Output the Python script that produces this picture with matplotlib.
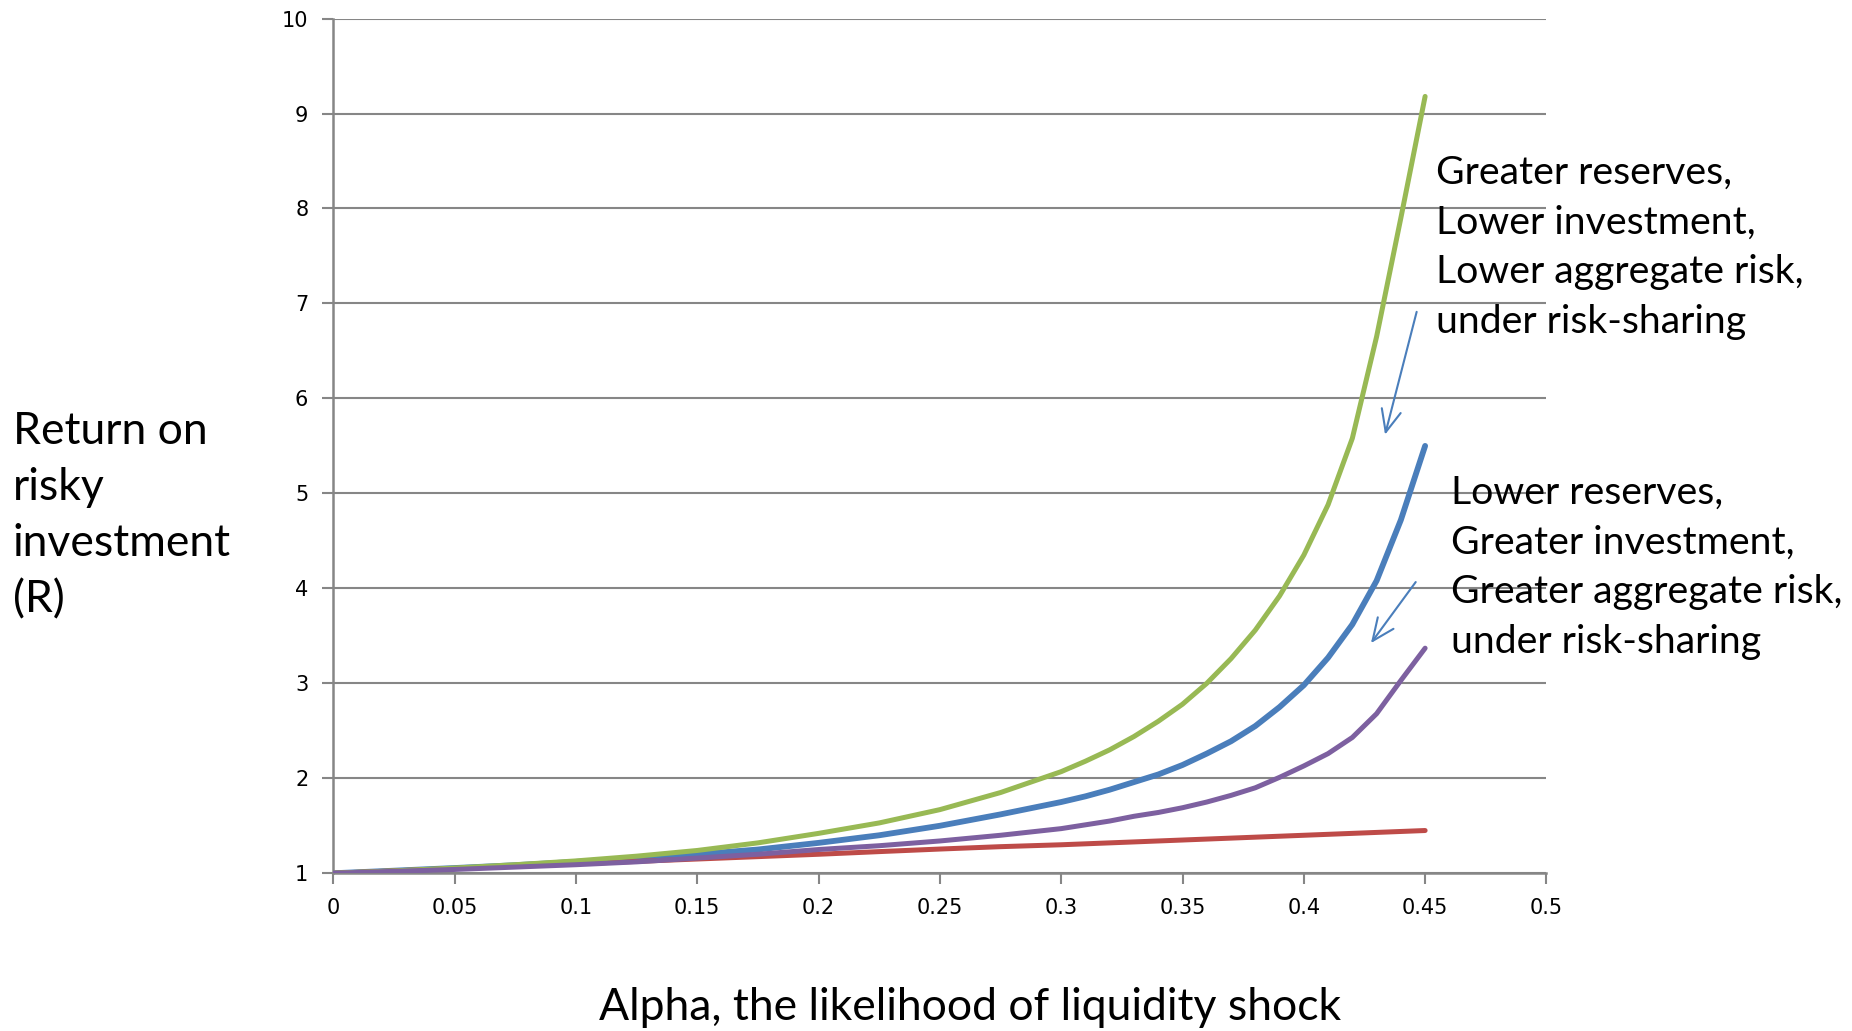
import numpy as np
import matplotlib
matplotlib.use("Agg")
import matplotlib.pyplot as plt

# values
alpha = [0.0, 0.025, 0.05, 0.075, 0.1, 0.125, 0.15, 0.175, 0.2, 0.225, 0.25, 0.275,
         0.3, 0.31, 0.32, 0.33, 0.34, 0.35, 0.36, 0.37, 0.38, 0.39,
         0.4, 0.41, 0.42, 0.43, 0.44, 0.45]
r_blue = [1.0, 1.027, 1.055, 1.085, 1.12, 1.16, 1.2, 1.25, 1.32, 1.4, 1.5, 1.62,
          1.75, 1.81, 1.88, 1.96, 2.04, 2.14, 2.26, 2.39, 2.55, 2.75,
          2.98, 3.27, 3.62, 4.08, 4.72, 5.5]
r_red = [1.0, 1.025, 1.05, 1.075, 1.1, 1.125, 1.15, 1.175, 1.2, 1.228, 1.255, 1.28,
         1.3, 1.31, 1.32, 1.33, 1.34, 1.35, 1.36, 1.37, 1.38, 1.39,
         1.4, 1.41, 1.42, 1.43, 1.44, 1.45]
r_green = [1.0, 1.025, 1.055, 1.09, 1.13, 1.18, 1.24, 1.32, 1.42, 1.53, 1.67, 1.85,
           2.07, 2.18, 2.3, 2.44, 2.6, 2.78, 3.0, 3.26, 3.56, 3.92,
           4.35, 4.88, 5.58, 6.65, 7.9, 9.18]
r_purple = [1.0, 1.02, 1.04, 1.065, 1.09, 1.12, 1.16, 1.2, 1.25, 1.29, 1.34, 1.4,
            1.47, 1.51, 1.55, 1.6, 1.64, 1.69, 1.75, 1.82, 1.9, 2.01,
            2.13, 2.26, 2.43, 2.68, 3.03, 3.37]

xticks = [0, 0.05, 0.1, 0.15, 0.2, 0.25, 0.3, 0.35, 0.4, 0.45, 0.5]
xtick_labels = ["0", "0.05", "0.1", "0.15", "0.2", "0.25", "0.3", "0.35", "0.4", "0.45", "0.5"]
yticks = list(range(1, 11))

txt_top = "Greater reserves,\nLower investment,\nLower aggregate risk,\nunder risk-sharing"
txt_bot = "Lower reserves,\nGreater investment,\nGreater aggregate risk,\nunder risk-sharing"

fig = plt.figure(figsize=(18.52, 10.31), dpi=100)
ax = fig.add_axes([0.180, 0.153, 0.655, 0.829])

grey = "#868686"
line_kw = dict(solid_capstyle="round", solid_joinstyle="round", zorder=3)
ax.plot(alpha, r_blue, color="#4A7EBB", lw=4.2, **line_kw)
ax.plot(alpha, r_red, color="#BE4B48", lw=3.6, **line_kw)
ax.plot(alpha, r_green, color="#98B954", lw=3.6, **line_kw)
ax.plot(alpha, r_purple, color="#7D60A0", lw=3.6, **line_kw)

ax.set_xlim(0, 0.5)
ax.set_ylim(1, 10)
ax.set_xticks(xticks)
ax.set_xticklabels(xtick_labels)
ax.set_yticks(yticks)
ax.grid(axis="y", color=grey, lw=1.5, zorder=1)
for s in ["top", "right"]:
    ax.spines[s].set_visible(False)
for s in ["left", "bottom"]:
    ax.spines[s].set_color(grey)
    ax.spines[s].set_linewidth(1.8)
ax.tick_params(axis="both", colors=grey, width=1.5, length=8, labelsize=15,
               labelcolor="black", direction="out")
ax.tick_params(axis="x", pad=10)
ax.tick_params(axis="y", pad=10)

tfont = "Lato"
ax.text(0.4546, 7.59, txt_top, fontsize=28.3, family=tfont, ha="left", va="center",
        linespacing=1.48, zorder=4)
ax.text(0.4608, 4.22, txt_bot, fontsize=28.3, family=tfont, ha="left", va="center",
        linespacing=1.48, zorder=4)

arrow_kw = dict(arrowstyle="->,head_length=1.6,head_width=0.7", color="#4A7EBB", lw=1.5)
ax.annotate("", xy=(0.4332, 5.59), xytext=(0.4468, 6.94), arrowprops=arrow_kw)
ax.annotate("", xy=(0.427, 3.40), xytext=(0.4468, 4.09), arrowprops=arrow_kw)

fig.text(0.007, 0.4995, "Return on\nrisky\ninvestment\n(R)", fontsize=32, family=tfont,
         ha="left", va="center", linespacing=1.46)
fig.text(0.524, 0.023, "Alpha, the likelihood of liquidity shock", fontsize=32,
         family=tfont, ha="center", va="center")

fig.savefig("out.png", dpi=100)
